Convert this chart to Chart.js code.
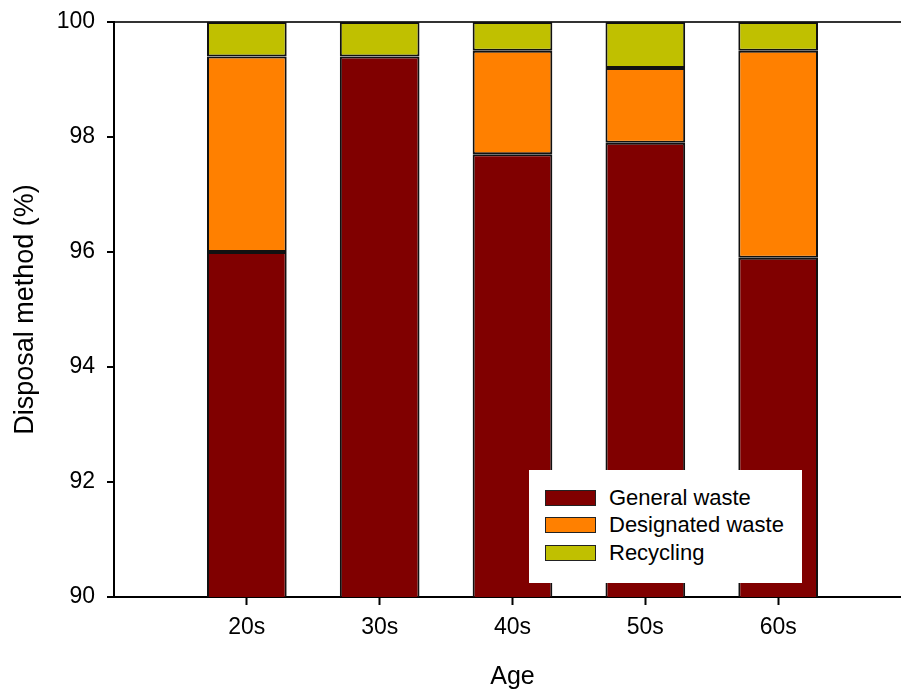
<!DOCTYPE html>
<html>
<head>
<meta charset="utf-8">
<script src="https://cdn.jsdelivr.net/npm/chart.js@4/dist/chart.umd.min.js"></script>
<style>
    html, body { margin: 0; padding: 0; overflow: hidden; background: #fff; }
    #wrap { position: relative; width: 901px; height: 689px; overflow: hidden; }
    #box { position: absolute; left: 0; top: 0; width: 920px; height: 692px; }
    #legend {
        position: absolute; left: 529px; top: 470px; width: 273px; height: 113px;
        background: #fff; font-family: 'Liberation Sans', Arial, sans-serif; font-size: 22px; color: #000;
        box-sizing: border-box; padding-top: 14px;
    }
    .item { display: flex; align-items: center; height: 27.5px; }
    .swatch { width: 51px; height: 16px; margin-left: 16px; margin-right: 13px; box-sizing: border-box; border: 1.5px solid #222; }
</style>
</head>
<body>
<div id="wrap">
    <div id="box"><canvas id="chart"></canvas></div>
    <div id="legend"></div>
</div>
<script>
const ageGroups = ['20s', '30s', '40s', '50s', '60s'];
const generalWaste = [96.0, 99.4, 97.7, 97.9, 95.9];
const designatedWaste = [3.4, 0, 1.8, 1.3, 3.6];
const recycling = [0.6, 0.6, 0.5, 0.8, 0.5];
const yTicks = [90, 92, 94, 96, 98, 100];

const seriesNames = ['General waste', 'Designated waste', 'Recycling'];
const seriesColors = ['#800000', '#FF8000', '#C0C000'];

// empty slot on each side so the axis runs one category past the first and last bar
const labels = ['', ...ageGroups, ''];
const pad = arr => [null, ...arr, null];

const font = "'Liberation Sans', Arial, sans-serif";

const datasets = [generalWaste, designatedWaste, recycling].map((vals, i) => ({
    label: seriesNames[i],
    data: pad(vals),
    backgroundColor: seriesColors[i],
    borderColor: '#111',
    borderWidth: 2,
    borderSkipped: false,
    barPercentage: 0.6,
    categoryPercentage: 1
}));

const chart = new Chart(document.getElementById('chart'), {
    type: 'bar',
    data: { labels, datasets },
    options: {
        responsive: true,
        maintainAspectRatio: false,
        animation: false,
        layout: { padding: { top: 22, right: 8, left: 0, bottom: 0 } },
        plugins: { legend: { display: false }, tooltip: { enabled: false } },
        scales: {
            x: {
                stacked: true,
                offset: false,
                afterFit: s => { s.height = 95; },
                border: { display: true, color: '#000', width: 2 },
                grid: {
                    offset: false,
                    drawOnChartArea: false,
                    tickLength: 8,
                    tickWidth: 2,
                    tickColor: ctx => (labels[ctx.index] ? '#000' : 'rgba(0,0,0,0)')
                },
                ticks: { color: '#000', font: { family: font, size: 23 }, padding: 9, maxRotation: 0, autoSkip: false },
                title: { display: true, text: 'Age', color: '#000', font: { family: font, size: 25 }, padding: 0 }
            },
            y: {
                stacked: true,
                min: 90,
                max: 100,
                // fixed axis width; let the layout padding alone set the plot top
                afterFit: s => { s.width = 114; s.paddingTop = 0; s.paddingBottom = 0; },
                afterBuildTicks: s => { s.ticks = yTicks.map(v => ({ value: v })); },
                border: { display: true, color: '#000', width: 2 },
                grid: {
                    color: ctx => (ctx.tick && ctx.tick.value === 100 ? '#333' : 'rgba(0,0,0,0)'),
                    lineWidth: 2,
                    tickColor: '#000',
                    tickLength: 7,
                    tickWidth: 2
                },
                ticks: { color: '#000', font: { family: font, size: 23 }, padding: 12 },
                title: { display: true, text: 'Disposal method (%)', color: '#000', font: { family: font, size: 27 }, padding: { top: 9 } }
            }
        }
    }
});

// legend box inside the plot, built from the datasets
document.getElementById('legend').innerHTML = chart.data.datasets.map(d => `
    <div class="item"><span class="swatch" style="background:${d.backgroundColor}"></span><span>${d.label}</span></div>
`).join('');
</script>
</body>
</html>
